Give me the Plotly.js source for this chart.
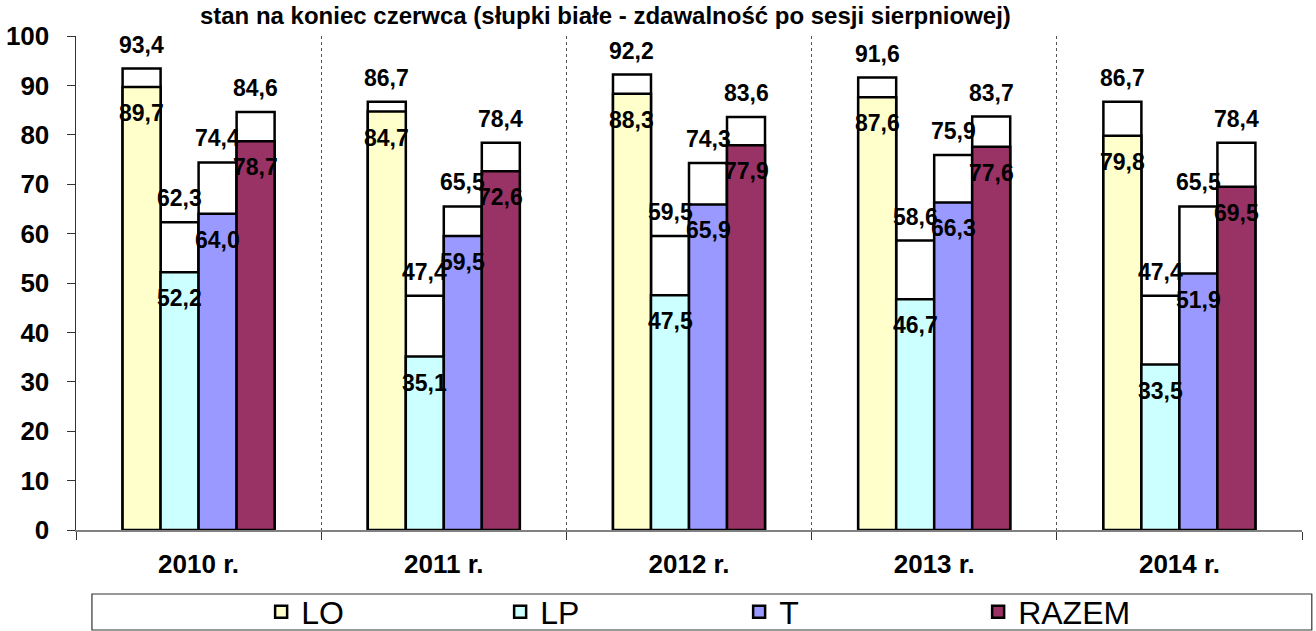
<!DOCTYPE html>
<html>
<head>
<meta charset="utf-8">
<script src="https://cdn.plot.ly/plotly-3.0.1.min.js"></script>
<style>
html,body{margin:0;padding:0;background:#fff;}
#chart{width:1316px;height:631px;}
</style>
</head>
<body>
<div id="chart"></div>
<script>
// ---- data ----
var years = ["2010 r.", "2011 r.", "2012 r.", "2013 r.", "2014 r."];
var seriesNames = ["LO", "LP", "T", "RAZEM"];
// stan na koniec czerwca (kolorowe słupki)
var juneLO    = [89.7, 84.7, 88.3, 87.6, 79.8];
var juneLP    = [52.2, 35.1, 47.5, 46.7, 33.5];
var juneT     = [64.0, 59.5, 65.9, 66.3, 51.9];
var juneRAZEM = [78.7, 72.6, 77.9, 77.6, 69.5];
// zdawalność po sesji sierpniowej (białe słupki)
var augLO    = [93.4, 86.7, 92.2, 91.6, 86.7];
var augLP    = [62.3, 47.4, 59.5, 58.6, 47.4];
var augT     = [74.4, 65.5, 74.3, 75.9, 65.5];
var augRAZEM = [84.6, 78.4, 83.6, 83.7, 78.4];
var yTicks = [0, 10, 20, 30, 40, 50, 60, 70, 80, 90, 100];

var juneAll = [juneLO, juneLP, juneT, juneRAZEM];
var augAll = [augLO, augLP, augT, augRAZEM];
var colors = ["#FFFFCC", "#CCFFFF", "#9999FF", "#993366"];

var BARGAP = 0.38;
var FONT = "Liberation Sans, Arial, sans-serif";
function fmt(v){ return v.toFixed(1).replace(".", ","); }

var traces = [];
for (var k = 0; k < 4; k++) {
  traces.push({
    type: "bar", x: years, y: augAll[k], name: seriesNames[k] + " (sierpień)",
    offsetgroup: seriesNames[k], showlegend: false, hoverinfo: "skip",
    marker: {color: "#FFFFFF", line: {color: "#000000", width: 2.5}}
  });
}
for (var k = 0; k < 4; k++) {
  traces.push({
    type: "bar", x: years, y: juneAll[k], name: seriesNames[k],
    offsetgroup: seriesNames[k], showlegend: true,
    marker: {color: colors[k], line: {color: "#000000", width: 2.5}}
  });
}

var annotations = [];
var bw = (1 - BARGAP) / 4;
for (var k = 0; k < 4; k++) {
  for (var i = 0; i < years.length; i++) {
    var xp = i + (k - 1.5) * bw;
    annotations.push({
      x: xp, y: augAll[k][i], xref: "x", yref: "y", text: fmt(augAll[k][i]),
      showarrow: false, yshift: 24,
      font: {family: FONT, size: 23, color: "#000", weight: "bold"}
    });
    annotations.push({
      x: xp, y: juneAll[k][i], xref: "x", yref: "y", text: fmt(juneAll[k][i]),
      showarrow: false, yshift: -26,
      font: {family: FONT, size: 23, color: "#000", weight: "bold"}
    });
  }
}

var layout = {
  width: 1316, height: 631,
  margin: {l: 76, r: 14, t: 36, b: 101, pad: 0, autoexpand: false},
  paper_bgcolor: "#FFFFFF", plot_bgcolor: "#FFFFFF",
  font: {family: FONT, color: "#000"},
  title: {
    text: "stan na koniec czerwca (słupki białe - zdawalność po sesji sierpniowej)",
    font: {family: FONT, size: 24, color: "#000", weight: "bold"},
    x: 0.46, xref: "container", xanchor: "center",
    y: 0.975, yref: "container", yanchor: "middle"
  },
  barmode: "group", bargap: BARGAP, bargroupgap: 0,
  xaxis: {
    type: "category", tickson: "boundaries",
    showgrid: true, gridcolor: "#555555", griddash: "dot", gridwidth: 1,
    showline: true, linecolor: "#808080", linewidth: 1.5,
    ticks: "outside", ticklen: 8, tickcolor: "#333333", tickwidth: 1,
    tickfont: {family: FONT, size: 26, color: "#000", weight: "bold"},
    ticklabelstandoff: 10,
    zeroline: false, fixedrange: true
  },
  yaxis: {
    range: [0, 100], tickvals: yTicks, ticktext: yTicks.map(String),
    showgrid: false, zeroline: false,
    showline: true, linecolor: "#333333", linewidth: 1.5,
    ticks: "outside", ticklen: 8, tickcolor: "#333333", tickwidth: 1,
    tickfont: {family: FONT, size: 26, color: "#000", weight: "bold"},
    ticklabelstandoff: 12, fixedrange: true
  },
  showlegend: true,
  legend: {
    orientation: "h", x: 0.151, xanchor: "left", y: -0.166, yanchor: "middle",
    entrywidth: 194, entrywidthmode: "pixels",
    font: {family: FONT, size: 32, color: "#000"},
    bgcolor: "rgba(0,0,0,0)", borderwidth: 0, traceorder: "normal"
  },
  shapes: [{
    type: "rect", xref: "paper", yref: "paper",
    x0: 0.013, x1: 1.008, y0: -0.1296, y1: -0.2024,
    line: {color: "#333333", width: 1.2}, fillcolor: "rgba(0,0,0,0)", layer: "above"
  }],
  annotations: annotations
};

Plotly.newPlot("chart", traces, layout, {displayModeBar: false, staticPlot: true});
</script>
</body>
</html>
